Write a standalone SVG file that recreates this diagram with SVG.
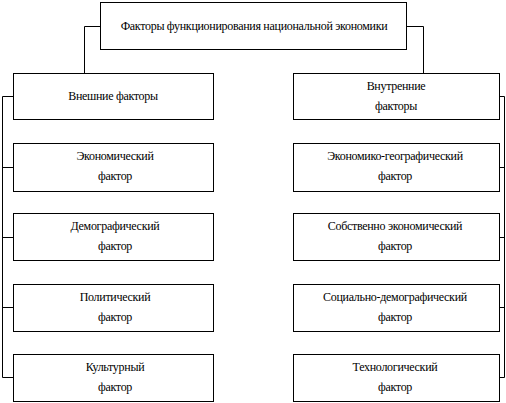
<svg xmlns="http://www.w3.org/2000/svg" width="506" height="403" viewBox="0 0 506 403">
<style>
rect{fill:#fff;stroke:#000;stroke-width:1}
path{fill:none;stroke:#000;stroke-width:1}
text{font-family:'Liberation Serif','DejaVu Serif',serif;font-size:12px;fill:#000;text-anchor:middle;letter-spacing:-0.3px}
</style>
<rect x="0" y="0" width="506" height="403" style="stroke:none"/>
<g id="connectors">
<path d="M100.5,26.5H84.5V73.5"/>
<path d="M406.5,26.5H423.5V73.5"/>
<path d="M13.5,96.5H2.5V377.5H13.5M2.5,167.5H13.5M2.5,237.5H13.5M2.5,307.5H13.5"/>
<path d="M499.5,96.5H504.5V377.5H499.5M504.5,167.5H499.5M504.5,237.5H499.5M504.5,307.5H499.5"/>
</g>
<g id="root"><rect x="100.5" y="2.5" width="306" height="47"/><text x="254" y="30">Факторы функционирования национальной экономики</text></g>
<g id="external"><rect x="13.5" y="73.5" width="200" height="46"/><text x="113" y="100">Внешние факторы</text></g>
<g id="internal"><rect x="293.5" y="73.5" width="206" height="46"/><text x="396" y="90">Внутренние</text><text x="396" y="110">факторы</text></g>
<g id="econ"><rect x="13.5" y="143.5" width="200" height="48"/><text x="115" y="160">Экономический</text><text x="115" y="180">фактор</text></g>
<g id="demo"><rect x="13.5" y="213.5" width="200" height="47"/><text x="115" y="230">Демографический</text><text x="115" y="250">фактор</text></g>
<g id="polit"><rect x="13.5" y="284.5" width="200" height="47"/><text x="115" y="301">Политический</text><text x="115" y="321">фактор</text></g>
<g id="cult"><rect x="13.5" y="354.5" width="200" height="47"/><text x="115" y="371">Культурный</text><text x="115" y="391">фактор</text></g>
<g id="econgeo"><rect x="293.5" y="143.5" width="206" height="48"/><text x="395" y="160">Экономико-географический</text><text x="395" y="180">фактор</text></g>
<g id="ownecon"><rect x="293.5" y="213.5" width="206" height="47"/><text x="395" y="230">Собственно экономический</text><text x="395" y="250">фактор</text></g>
<g id="socdemo"><rect x="293.5" y="284.5" width="206" height="47"/><text x="395" y="301">Социально-демографический</text><text x="395" y="321">фактор</text></g>
<g id="tech"><rect x="293.5" y="354.5" width="206" height="47"/><text x="395" y="371">Технологический</text><text x="395" y="391">фактор</text></g>
</svg>
